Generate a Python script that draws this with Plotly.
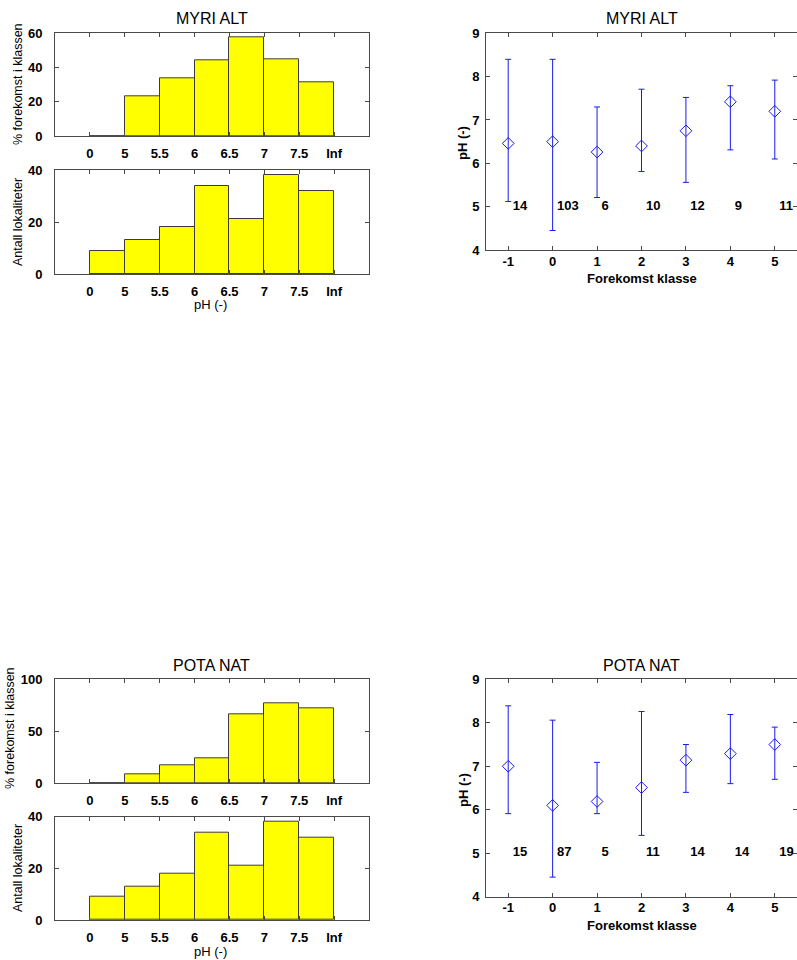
import numpy as np
import plotly.graph_objects as go

W, H = 797, 960

# ---------------- data ----------------
bin_labels = ["0", "5", "5.5", "6", "6.5", "7", "7.5", "Inf"]
myri_pct = [0, 23.0, 33.5, 44.4, 57.7, 44.8, 31.4]
pota_pct = [0, 8.3, 17.3, 24.0, 66.3, 76.9, 72.1]
antall = [9, 13, 18, 34, 21, 38, 32]

klasse = [-1, 0, 1, 2, 3, 4, 5]
myri_mean = [6.46, 6.50, 6.26, 6.40, 6.75, 7.42, 7.20]
myri_hi = [8.40, 8.40, 7.30, 7.71, 7.52, 7.79, 7.92]
myri_lo = [5.12, 4.45, 5.21, 5.81, 5.56, 6.31, 6.10]
myri_n = [14, 103, 6, 10, 12, 9, 11]

pota_mean = [7.00, 6.10, 6.19, 6.51, 7.14, 7.29, 7.50]
pota_hi = [8.39, 8.06, 7.09, 8.26, 7.50, 8.19, 7.90]
pota_lo = [5.91, 4.45, 5.91, 5.41, 6.40, 6.60, 6.70]
pota_n = [15, 87, 5, 11, 14, 14, 19]

FONT = "Liberation Sans, Arial, sans-serif"
AXC = "#4a4a4a"
BLUE = "#1a1aee"


def fx(px):
    return px / W


def fy(py):
    return 1 - py / H


fig = go.Figure()

# axis ids: 1 myri pct, 2 myri antall, 3 myri err, 4 pota pct, 5 pota antall, 6 pota err
hist_sets = [(myri_pct, 1), (antall, 2), (pota_pct, 4), (antall, 5)]
for vals, k in hist_sets:
    centers = np.arange(len(vals)) + 1.5
    fig.add_trace(go.Bar(
        x=centers, y=vals, width=1.0,
        marker=dict(color="#ffff00", line=dict(color="#3c3c3c", width=1)),
        xaxis=f"x{k}", yaxis=f"y{k}", showlegend=False,
    ))

for mean, hi, lo, n, k in [(myri_mean, myri_hi, myri_lo, myri_n, 3),
                           (pota_mean, pota_hi, pota_lo, pota_n, 6)]:
    mean_a = np.array(mean)
    fig.add_trace(go.Scatter(
        x=klasse, y=mean, mode="markers",
        marker=dict(symbol="diamond-open", size=9, color=BLUE, line=dict(width=1, color=BLUE)),
        error_y=dict(type="data", symmetric=False,
                     array=list(np.array(hi) - mean_a),
                     arrayminus=list(mean_a - np.array(lo)),
                     color=BLUE, thickness=1, width=3),
        xaxis=f"x{k}", yaxis=f"y{k}", showlegend=False, cliponaxis=False,
    ))
    fig.add_trace(go.Scatter(
        x=[c + 0.1 for c in klasse], y=[5] * len(klasse), mode="text",
        text=[f"<b>{v}</b>" for v in n], textposition="middle right",
        textfont=dict(family=FONT, size=13, color="black"),
        xaxis=f"x{k}", yaxis=f"y{k}", showlegend=False, cliponaxis=False,
    ))

TICKFONT = dict(family=FONT, size=13, color="black", weight="bold")
axcommon = dict(showline=True, linecolor=AXC, linewidth=1, mirror="ticks",
                ticks="inside", ticklen=4, tickcolor=AXC, showgrid=False,
                zeroline=False, automargin=False, tickfont=TICKFONT)

LX = [fx(55), fx(369)]
RX = [fx(486), fx(797)]

layout = dict(
    template="none",
    width=W, height=H, margin=dict(l=0, r=0, t=0, b=0, pad=0, autoexpand=False),
    paper_bgcolor="white", plot_bgcolor="white", bargap=0,
    font=dict(family=FONT, size=12, color="black"),
)


def hist_axes(k, ytop, ybot, yr, ytv):
    layout[f"xaxis{k}"] = dict(axcommon, domain=LX, anchor=f"y{k}", range=[0, 9],
                               tickvals=list(range(1, len(bin_labels) + 1)),
                               ticktext=bin_labels, ticklabelstandoff=5)
    layout[f"yaxis{k}"] = dict(axcommon, domain=[fy(ybot), fy(ytop)], anchor=f"x{k}",
                               range=yr, tickvals=ytv, ticklabelstandoff=9)


def err_axes(k, ytop, ybot):
    layout[f"xaxis{k}"] = dict(axcommon, domain=RX, anchor=f"y{k}", range=[-1.5, 5.5],
                               tickvals=klasse, ticktext=[str(c) for c in klasse],
                               ticklabelstandoff=-1)
    layout[f"yaxis{k}"] = dict(axcommon, domain=[fy(ybot), fy(ytop)], anchor=f"x{k}",
                               range=[4, 9], tickvals=[4, 5, 6, 7, 8, 9], ticklabelstandoff=3)


hist_axes(1, 33.3, 136, [0, 60], [0, 20, 40, 60])
hist_axes(2, 170, 274, [0, 40], [0, 20, 40])
err_axes(3, 33.3, 250)
hist_axes(4, 679.3, 783.3, [0, 100], [0, 50, 100])
hist_axes(5, 816.7, 920, [0, 40], [0, 20, 40])
err_axes(6, 679.3, 896.7)

fig.update_layout(**layout)


def ann(text, x, y, size=12.5, angle=0, bold=False):
    fig.add_annotation(text=text, x=fx(x), y=fy(y), xref="paper", yref="paper",
                       showarrow=False, xanchor="center", yanchor="middle",
                       textangle=angle,
                       font=dict(family=FONT, size=size, color="black",
                                 weight="bold" if bold else "normal"))


for title, y0 in [("MYRI ALT", 0), ("POTA NAT", 647)]:
    ann(title, 212, 18 + y0, size=16)
    ann(title, 641.5, 18 + y0, size=16)

ann("% forekomst i klassen", 18, 84, angle=-90)
ann("Antall lokaliteter", 18, 222, angle=-90)
ann("pH (-)", 210, 305, size=13)
ann("pH (-)", 463, 143, angle=-90, size=13, bold=True)
ann("Forekomst klasse", 641.7, 278, size=13, bold=True)

ann("% forekomst i klassen", 10, 728, angle=-90)
ann("Antall lokaliteter", 18, 868, angle=-90)
ann("pH (-)", 210, 951, size=13)
ann("pH (-)", 463, 790, angle=-90, size=13, bold=True)
ann("Forekomst klasse", 641.7, 925, size=13, bold=True)

fig.write_html("out.html",
               config={"displayModeBar": False},
               post_script="document.body.style.margin='0';document.body.style.overflow='hidden';")
